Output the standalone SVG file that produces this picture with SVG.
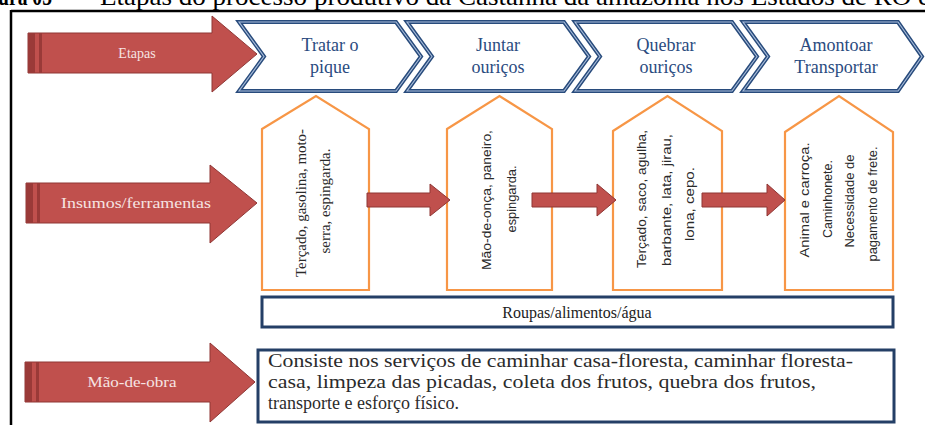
<svg xmlns="http://www.w3.org/2000/svg" width="925" height="425" viewBox="0 0 925 425">
<defs>
<style>
.red{fill:#c0504d;stroke:#8f3634;stroke-width:1}
.stripe{fill:#9a3a38}
.lbl{font-family:"Liberation Serif","Times New Roman",serif;font-size:14px;fill:#f6e4e3;text-anchor:middle}
.chev{fill:#ffffff;stroke:#284b7c;stroke-width:4;stroke-linejoin:miter}
.chevin{fill:none;stroke:#a9bddb;stroke-width:1.1;stroke-linejoin:miter}
.ctext{font-family:"Liberation Serif","Times New Roman",serif;font-size:18px;fill:#2a4b80;text-anchor:middle}
.pent{fill:#ffffff;stroke:#f79646;stroke-width:2.2}
.vs{font-family:"Liberation Serif","Times New Roman",serif;font-size:15px;fill:#2a2a2a;text-anchor:middle}
.vn{font-family:"Liberation Sans",Arial,sans-serif;font-size:13.5px;fill:#2a2a2a;text-anchor:middle}
.box{fill:#ffffff;stroke:#243f66;stroke-width:3}
.btext{font-family:"Liberation Serif","Times New Roman",serif;font-size:18px;fill:#2b2b2b}
.rtext{font-family:"Liberation Serif","Times New Roman",serif;font-size:16px;fill:#222;text-anchor:middle}
.ttl{font-family:"Liberation Serif","Times New Roman",serif;font-size:25px;fill:#000}
</style>
</defs>
<rect x="0" y="0" width="925" height="425" fill="#ffffff"/>
<g id="title">
<text class="ttl" y="5"><tspan x="-2" font-weight="bold" textLength="54" lengthAdjust="spacingAndGlyphs">ura 05</tspan><tspan x="62">–</tspan><tspan x="100" textLength="830" lengthAdjust="spacingAndGlyphs">Etapas do processo produtivo da Castanha da amazônia nos Estados de RO e</tspan></text>
</g>
<g id="frame">
<line x1="11" y1="11" x2="925" y2="11" stroke="#000" stroke-width="2.5"/>
<line x1="11" y1="10" x2="11" y2="425" stroke="#000" stroke-width="2.5"/>
</g>
<g id="etapas">
<polygon class="red" points="28,33 212,33 212,16 257,54 212,92 212,73 28,73"/>
<rect class="stripe" x="28" y="33" width="7" height="40"/>
<rect class="stripe" x="39" y="33" width="3" height="40"/>
<text class="lbl" x="137" y="58">Etapas</text>
</g>
<g id="insumos">
<polygon class="red" points="26,183 210,183 210,165 257,203 210,243 210,223 26,223"/>
<rect class="stripe" x="26" y="183" width="7" height="40"/>
<rect class="stripe" x="37" y="183" width="3" height="40"/>
<text class="lbl" x="136" y="208" textLength="150" lengthAdjust="spacingAndGlyphs">Insumos/ferramentas</text>
</g>
<g id="maodeobra">
<polygon class="red" points="25,362 210,362 210,343 255,382 210,422 210,402 25,402"/>
<rect class="stripe" x="25" y="362" width="7" height="40"/>
<rect class="stripe" x="36" y="362" width="3" height="40"/>
<text class="lbl" x="132" y="387" textLength="89" lengthAdjust="spacingAndGlyphs">Mão-de-obra</text>
</g>
<g id="chevron1">
<polygon class="chev" points="239,22 396,22 421,56.5 396,91 239,91 264,56.5"/>
<polygon class="chevin" points="239,22 396,22 421,56.5 396,91 239,91 264,56.5"/>
<text class="ctext" x="330" y="51">Tratar o</text>
<text class="ctext" x="330" y="73">pique</text>
</g>
<g id="chevron2">
<polygon class="chev" points="407,22 564,22 589,56.5 564,91 407,91 432,56.5"/>
<polygon class="chevin" points="407,22 564,22 589,56.5 564,91 407,91 432,56.5"/>
<text class="ctext" x="498" y="51">Juntar</text>
<text class="ctext" x="498" y="73">ouriços</text>
</g>
<g id="chevron3">
<polygon class="chev" points="575,22 732,22 757,56.5 732,91 575,91 600,56.5"/>
<polygon class="chevin" points="575,22 732,22 757,56.5 732,91 575,91 600,56.5"/>
<text class="ctext" x="666" y="51">Quebrar</text>
<text class="ctext" x="666" y="73">ouriços</text>
</g>
<g id="chevron4">
<polygon class="chev" points="743,22 898,22 922,56.5 898,91 743,91 768,56.5"/>
<polygon class="chevin" points="743,22 898,22 922,56.5 898,91 743,91 768,56.5"/>
<text class="ctext" x="836" y="51">Amontoar</text>
<text class="ctext" x="836" y="73">Transportar</text>
</g>
<g id="insumo1">
<polygon class="pent" points="262,129 316,96 369,129 369,290 262,290"/>
<text class="vs" x="306" y="203" transform="rotate(-90 306 203)" textLength="148" lengthAdjust="spacingAndGlyphs">Terçado, gasolina, moto-</text>
<text class="vs" x="330" y="201" transform="rotate(-90 330 201)" textLength="105" lengthAdjust="spacingAndGlyphs">serra, espingarda.</text>
</g>
<g id="insumo2">
<polygon class="pent" points="447,129 499.5,96 552,129 552,290 447,290"/>
<text class="vn" x="491" y="200" transform="rotate(-90 491 200)" textLength="140" lengthAdjust="spacingAndGlyphs">Mão-de-onça, paneiro,</text>
<text class="vn" x="516" y="199" transform="rotate(-90 516 199)" textLength="67" lengthAdjust="spacingAndGlyphs">espingarda.</text>
</g>
<g id="insumo3">
<polygon class="pent" points="613,131 667.5,96 722,131 722,290 613,290"/>
<text class="vn" x="646" y="199" transform="rotate(-90 646 199)" textLength="138" lengthAdjust="spacingAndGlyphs">Terçado, saco, agulha,</text>
<text class="vn" x="671" y="200" transform="rotate(-90 671 200)" textLength="132" lengthAdjust="spacingAndGlyphs">barbante, lata, jirau,</text>
<text class="vn" x="694" y="204" transform="rotate(-90 694 204)" textLength="74" lengthAdjust="spacingAndGlyphs">lona, cepo.</text>
</g>
<g id="insumo4">
<polygon class="pent" points="785,132 839,96 893,132 893,290 785,290"/>
<text class="vn" x="809" y="200" transform="rotate(-90 809 200)" textLength="115" lengthAdjust="spacingAndGlyphs">Animal e carroça.</text>
<text class="vn" x="832" y="199" transform="rotate(-90 832 199)" textLength="78" lengthAdjust="spacingAndGlyphs">Caminhonete.</text>
<text class="vn" x="854" y="201" transform="rotate(-90 854 201)" textLength="93" lengthAdjust="spacingAndGlyphs">Necessidade de</text>
<text class="vn" x="877" y="204" transform="rotate(-90 877 204)" textLength="115" lengthAdjust="spacingAndGlyphs">pagamento de frete.</text>
</g>
<g id="connectors">
<polygon class="red" points="367,193 430,193 430,184 450,200 430,216 430,207 367,207"/>
<polygon class="red" points="532,193 597,193 597,184 616,200 597,216 597,207 532,207"/>
<polygon class="red" points="702,193 767,193 767,184 785,200 767,216 767,207 702,207"/>
</g>
<g id="roupas">
<rect class="box" x="262" y="297" width="631" height="30"/>
<text class="rtext" x="577" y="318">Roupas/alimentos/água</text>
</g>
<g id="descricao">
<rect class="box" x="258" y="350" width="636" height="72"/>
<text class="btext" x="268" y="367" textLength="585" lengthAdjust="spacingAndGlyphs">Consiste nos serviços de caminhar  casa-floresta, caminhar  floresta-</text>
<text class="btext" x="268" y="388" textLength="548" lengthAdjust="spacingAndGlyphs">casa, limpeza  das picadas, coleta dos frutos, quebra dos frutos,</text>
<text class="btext" x="268" y="409">transporte e esforço físico.</text>
</g>
</svg>
